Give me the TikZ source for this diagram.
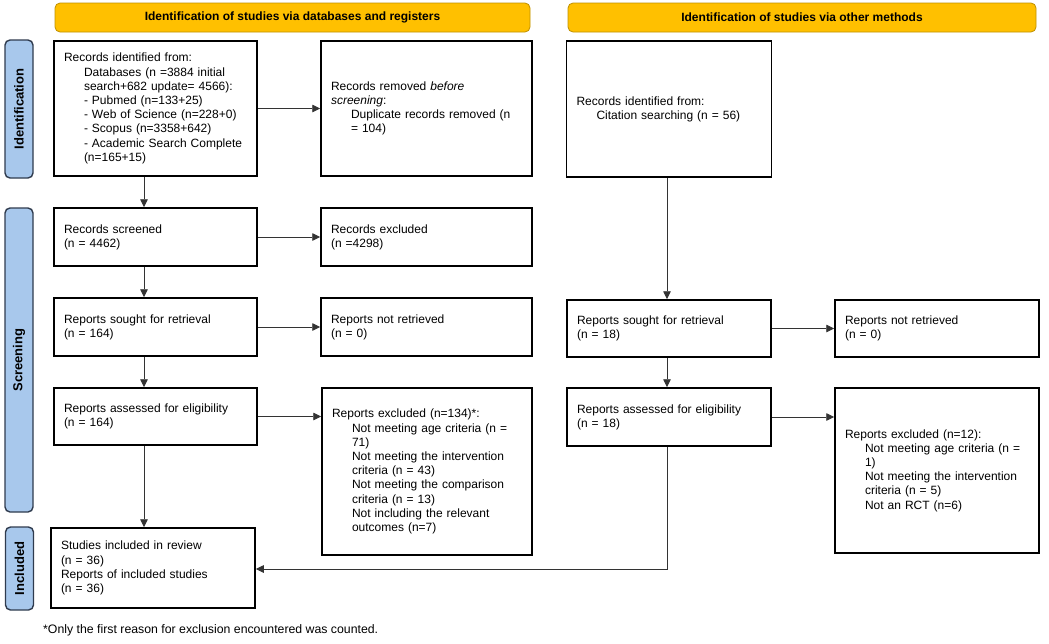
\documentclass[tikz,border=0pt]{standalone}
\usepackage{fontspec}
\setmainfont{Liberation Sans}
\usetikzlibrary{arrows.meta,calc}
\definecolor{gold}{HTML}{FFC000}
\definecolor{goldborder}{HTML}{BF9000}
\definecolor{sideblue}{HTML}{A8C8EC}
\definecolor{sideborder}{HTML}{2F3B4E}
\newcommand{\ind}{\hspace*{20pt}}
\begin{document}
\begin{tikzpicture}[x=1pt,y=-1pt,
  every node/.style={font=\fontsize{12}{14.2}\selectfont},
  flowbox/.style={draw=black,line width=1.5pt,rectangle,align=left,inner xsep=10pt,inner ysep=0pt},
  banner/.style={draw=goldborder,fill=gold,line width=0.8pt,rounded corners=5pt,inner sep=0pt,font=\bfseries\fontsize{12}{14}\selectfont},
  sidelabel/.style={draw=sideborder,fill=sideblue,line width=1.4pt,rounded corners=5pt,inner sep=0pt,rotate=90,font=\bfseries\fontsize{13}{15}\selectfont},
  conn/.style={draw=black!80,line width=0.9pt,-{Triangle[length=8pt,width=7.5pt]}}
]
\useasboundingbox (0,0) rectangle (1049,643);

% banners
\node[banner,minimum width=475pt,minimum height=29pt] (bl) at (292.5,17.5) {Identification of studies via databases and registers};
\node[banner,minimum width=468pt,minimum height=29pt] (br) at (802,17.5) {Identification of studies via other methods};

% side labels
\node[sidelabel,minimum width=138pt,minimum height=28pt] (sid) at (19,109) {Identification};
\node[sidelabel,minimum width=304pt,minimum height=28pt] (ssc) at (19,360) {Screening};
\node[sidelabel,minimum width=83pt,minimum height=28pt] (sin) at (19.5,568.5) {Included};

% left column
\node[flowbox,text width=183pt,minimum height=135pt] (A) at (155.5,108.5) {Records identified from:\\
\ind Databases (n =3884 initial\\
\ind search+682 update= 4566):\\
\ind - Pubmed (n=133+25)\\
\ind - Web of Science (n=228+0)\\
\ind - Scopus (n=3358+642)\\
\ind - Academic Search Complete\\
\ind (n=165+15)};
\node[flowbox,text width=191pt,minimum height=135pt] (B) at (426.5,108.5) {Records removed \textit{before}\\
\textit{screening}:\\
\ind Duplicate records removed (n\\
\ind = 104)};

\node[flowbox,text width=183pt,minimum height=58pt] (S) at (155.5,237) {Records screened\\(n = 4462)};
\node[flowbox,text width=191pt,minimum height=58pt] (E) at (426.5,237) {Records excluded\\(n =4298)};

\node[flowbox,text width=183pt,minimum height=58pt] (RL) at (155.5,327) {Reports sought for retrieval\\(n = 164)};
\node[flowbox,text width=191pt,minimum height=58pt] (NL) at (426.5,327) {Reports not retrieved\\(n = 0)};

\node[flowbox,text width=183pt,minimum height=57pt] (AL) at (155.5,416.5) {Reports assessed for eligibility\\(n = 164)};
\node[flowbox,text width=190pt,minimum height=167pt] (XL) at (427,471.5) {Reports excluded (n=134)*:\\
\ind Not meeting age criteria (n =\\
\ind 71)\\
\ind Not meeting the intervention\\
\ind criteria (n = 43)\\
\ind Not meeting the comparison\\
\ind criteria (n = 13)\\
\ind Not including the relevant\\
\ind outcomes (n=7)};

\node[flowbox,text width=184pt,minimum height=80pt] (I) at (153,568) {Studies included in review\\
(n = 36)\\
Reports of included studies\\
(n = 36)};

% right column
\node[flowbox,text width=185pt,minimum height=136pt] (C) at (669,109) {Records identified from:\\
\ind Citation searching (n = 56)};
\node[flowbox,text width=184pt,minimum height=57pt] (RR) at (669,328.5) {Reports sought for retrieval\\(n = 18)};
\node[flowbox,text width=184pt,minimum height=57pt] (NR) at (937,328.5) {Reports not retrieved\\(n = 0)};
\node[flowbox,text width=184pt,minimum height=58pt] (AR) at (669,417) {Reports assessed for eligibility\\(n = 18)};
\node[flowbox,text width=184pt,minimum height=165pt] (XR) at (937,470.5) {Reports excluded (n=12):\\
\ind Not meeting age criteria (n =\\
\ind 1)\\
\ind Not meeting the intervention\\
\ind criteria (n = 5)\\
\ind Not an RCT (n=6)\\[30pt]};

% footnote
\node[anchor=west,inner sep=0pt,font=\fontsize{12.3}{14}\selectfont] (fn) at (43,630) {*Only the first reason for exclusion encountered was counted.};

% connectors
\coordinate (lx) at (144,0);
\coordinate (rx) at (667,0);
\draw[conn] (A.south -| lx) -- (S.north -| lx);
\draw[conn] (S.south -| lx) -- (RL.north -| lx);
\draw[conn] (RL.south -| lx) -- (AL.north -| lx);
\draw[conn] (AL.south -| lx) -- (I.north -| lx);
\draw[conn] (A.east) -- (B.west);
\draw[conn] (S.east) -- (E.west |- S.east);
\draw[conn] (RL.east) -- (NL.west |- RL.east);
\draw[conn] (AL.east) -- (XL.west |- AL.east);

\draw[conn] (C.south -| rx) -- (RR.north -| rx);
\draw[conn] (RR.south -| rx) -- (AR.north -| rx);
\draw[conn] (RR.east) -- (NR.west |- RR.east);
\draw[conn] (AR.east) -- (XR.west |- AR.east);
\coordinate (jn) at (667,569);
\draw[conn] (AR.south -| rx) -- (jn) -- (I.east |- jn);
\end{tikzpicture}
\end{document}
